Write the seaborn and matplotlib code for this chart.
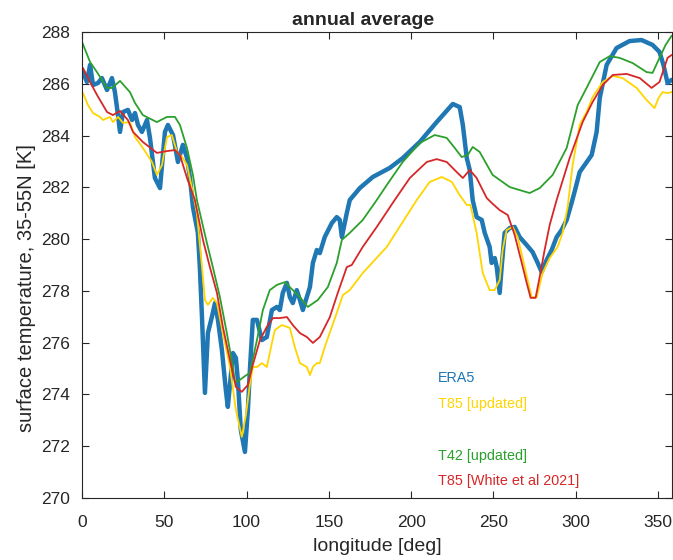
import numpy as np
import pandas as pd
import matplotlib
matplotlib.use("Agg")
import matplotlib.pyplot as plt
import seaborn as sns
from matplotlib.lines import Line2D

# ---------------- data ----------------
era5_lon = [0.6, 3.0, 4.9, 6.7, 9.7, 12.1, 15.2, 18.2, 20.0, 21.3, 23.1, 24.9, 27.9, 30.4, 32.2, 34.0,
            36.4, 39.5, 41.3, 44.3, 47.4, 50.4, 52.2, 55.3, 58.3, 61.3, 63.8, 65.6, 67.4, 70.4, 71.6,
            72.9, 74.7, 76.5, 78.9, 80.8, 82.6, 85.0, 87.4, 88.6, 89.9, 91.7, 93.5, 94.7, 96.5, 99.0,
            100.8, 102.0, 103.8, 106.3, 109.3, 112.3, 115.4, 118.4, 120.2, 122.0, 124.5, 126.3, 128.1,
            130.5, 132.4, 134.2, 136.6, 138.5, 140.3, 142.7, 144.5, 147.5, 151.8, 154.8, 156.6, 157.9,
            160.9, 162.7, 168.8, 176.7, 187.0, 194.9, 205.2, 215.5, 225.3, 229.5, 231.4, 233.8, 235.6,
            237.4, 239.8, 242.9, 244.7, 247.7, 248.9, 250.8, 252.0, 253.8, 255.0, 256.8, 259.9, 262.9,
            265.9, 270.2, 273.8, 276.9, 279.3, 282.3, 285.4, 288.4, 291.4, 294.5, 297.5, 299.9, 302.4,
            305.4, 309.7, 312.7, 314.6, 318.8, 324.8, 332.7, 340.0, 346.7, 350.9, 353.3, 355.8, 358.2]
era5_t = [286.45, 286.07, 286.73, 285.95, 286.03, 286.22, 285.76, 286.22, 285.68, 285.06, 284.14, 284.91,
          284.99, 284.60, 284.87, 284.41, 284.14, 284.60, 283.91, 282.36, 281.97, 284.14, 284.41, 284.02,
          282.98, 283.64, 283.13, 282.36, 281.24, 280.24, 278.92, 276.99, 274.06, 276.37, 276.99, 277.53,
          276.88, 275.72, 274.17, 273.52, 274.37, 275.60, 275.41, 274.56, 272.63, 271.78, 273.40, 274.94,
          276.88, 276.88, 276.10, 276.22, 277.26, 277.38, 277.26, 277.92, 278.31, 277.76, 277.53, 278.03,
          277.65, 277.26, 277.76, 278.15, 279.08, 279.58, 279.46, 280.08, 280.62, 280.85, 280.74, 280.08,
          281.01, 281.51, 281.97, 282.40, 282.75, 283.13, 283.75, 284.52, 285.22, 285.10, 284.41, 283.13,
          282.67, 281.51, 280.85, 280.74, 280.24, 279.70, 279.08, 279.27, 278.92, 277.92, 278.92, 280.24,
          280.43, 280.47, 280.08, 279.77, 279.50, 279.08, 278.73, 279.19, 279.58, 280.08, 280.35, 280.74,
          281.40, 281.97, 282.59, 282.86, 283.25, 284.14, 285.45, 286.73, 287.38, 287.65, 287.69, 287.50,
          287.23, 286.73, 286.03, 286.15]

t85u_lon = [0.6, 3.6, 6.7, 10.9, 12.8, 17.0, 18.8, 21.9, 24.9, 29.1, 32.2, 37.0, 42.5, 45.5, 48.6, 51.6,
            54.6, 57.7, 61.3, 63.8, 66.8, 69.8, 72.9, 74.7, 76.5, 79.5, 82.0, 85.6, 89.9, 93.5, 97.1, 99.6,
            102.0, 103.8, 106.3, 109.3, 112.3, 114.1, 115.4, 117.2, 121.4, 126.3, 129.3, 132.4, 136.6,
            138.5, 140.3, 142.7, 144.5, 147.5, 151.8, 155.4, 158.5, 162.7, 170.6, 185.2, 203.4, 211.3,
            218.6, 224.7, 229.5, 233.8, 236.0, 239.8, 243.5, 247.7, 250.8, 253.8, 255.6, 258.0, 261.7,
            264.7, 269.0, 273.2, 276.3, 279.9, 284.2, 289.0, 292.0, 295.1, 298.1, 302.4, 306.6, 310.3,
            316.4, 322.5, 328.5, 337.0, 343.1, 347.9, 350.3, 352.8, 355.8, 358.2]
t85u_t = [285.64, 285.18, 284.87, 284.72, 284.60, 284.72, 284.52, 284.72, 284.49, 284.52, 283.94, 283.52,
          282.98, 282.48, 282.86, 283.94, 284.02, 283.37, 283.13, 282.86, 281.97, 281.01, 278.92, 277.65,
          277.46, 277.73, 277.53, 276.37, 275.06, 273.40, 272.36, 273.21, 274.37, 275.06, 275.06, 275.21,
          275.06, 275.60, 275.99, 276.49, 276.68, 276.57, 275.83, 275.21, 275.06, 274.75, 275.06, 275.21,
          275.21, 275.83, 276.61, 277.26, 277.84, 278.03, 278.69, 279.70, 281.51, 282.21, 282.40, 282.21,
          281.70, 281.32, 281.32, 280.24, 278.69, 278.03, 278.03, 278.42, 279.58, 280.35, 280.47, 280.08,
          278.92, 277.76, 277.76, 278.69, 279.27, 279.70, 280.24, 281.24, 282.86, 284.41, 284.91, 285.49,
          286.07, 286.30, 286.22, 285.84, 285.37, 285.06, 285.45, 285.68, 285.64, 285.68]

t42u_lon = [0.0, 4.9, 9.1, 15.2, 18.2, 23.1, 29.1, 32.2, 37.0, 45.5, 51.6, 56.5, 59.5, 63.8, 67.4, 69.8,
            75.9, 79.5, 83.8, 88.0, 91.7, 92.9, 95.9, 99.0, 102.0, 106.3, 109.9, 114.1, 118.4, 123.3,
            128.1, 132.4, 137.2, 143.3, 149.4, 154.8, 157.9, 162.7, 170.6, 179.1, 185.2, 194.9, 205.2,
            214.3, 221.6, 226.5, 230.7, 234.4, 237.4, 241.6, 249.5, 259.9, 272.0, 278.1, 286.0, 294.5,
            301.2, 306.6, 314.6, 320.7, 326.7, 334.6, 343.1, 346.7, 350.9, 354.6, 358.2]
t42u_t = [287.62, 286.84, 286.45, 285.84, 285.84, 286.11, 285.68, 285.26, 284.79, 284.52, 284.72, 284.72,
          284.41, 283.52, 282.48, 281.51, 279.85, 278.92, 277.76, 276.37, 275.06, 274.48, 274.56, 274.71,
          274.83, 276.10, 277.26, 278.03, 278.23, 278.34, 278.03, 277.76, 277.38, 277.65, 278.15, 279.08,
          279.97, 280.24, 280.74, 281.51, 282.09, 282.98, 283.71, 284.02, 283.91, 283.52, 283.17, 283.25,
          283.56, 283.37, 282.48, 282.01, 281.78, 281.97, 282.48, 283.52, 285.18, 285.84, 286.84, 287.07,
          287.00, 286.80, 286.45, 286.42, 287.00, 287.50, 287.85]

t85w_lon = [0.6, 4.9, 9.1, 15.2, 18.8, 23.1, 27.9, 31.0, 37.0, 45.5, 51.6, 56.5, 59.5, 63.8, 68.6, 73.5,
            77.7, 82.0, 85.6, 89.9, 93.5, 97.1, 100.8, 103.8, 108.1, 112.3, 116.0, 120.2, 124.5, 128.1,
            132.4, 136.6, 140.3, 144.5, 150.6, 155.4, 160.9, 163.9, 170.6, 179.1, 190.0, 199.2, 209.5,
            215.5, 221.6, 227.7, 231.4, 235.6, 239.8, 245.9, 248.9, 253.8, 258.7, 262.9, 267.2, 270.2,
            272.6, 275.6, 278.1, 281.1, 284.2, 288.4, 296.3, 304.2, 310.3, 316.4, 322.5, 331.0, 338.9,
            346.1, 350.9, 355.8, 358.2]
t85w_t = [286.61, 286.07, 285.57, 284.91, 284.79, 284.95, 284.60, 284.14, 283.75, 283.33, 283.40, 283.44,
          283.25, 282.36, 281.51, 279.97, 278.92, 277.92, 276.61, 275.33, 274.29, 274.10, 274.37, 275.14,
          276.10, 276.61, 276.95, 276.95, 276.99, 276.68, 276.37, 276.22, 275.99, 276.22, 276.99, 277.92,
          278.92, 279.00, 279.70, 280.47, 281.51, 282.36, 282.98, 283.09, 282.98, 282.59, 282.36, 282.67,
          282.36, 281.59, 281.40, 281.12, 280.93, 280.16, 279.08, 278.31, 277.73, 277.73, 278.54, 279.58,
          280.55, 281.51, 283.13, 284.52, 285.30, 285.95, 286.34, 286.38, 286.22, 285.84, 286.07, 287.00,
          287.11]

labels = ["ERA5", "T85 [updated]", "T42 [updated]", "T85 [White et al 2021]"]
colors = ["#1f77b4", "#ffd500", "#2ca02c", "#d62728"]
widths = [3.2, 1.3, 1.3, 1.3]
x_ticks = [0, 50, 100, 150, 200, 250, 300, 350]
y_ticks = [270, 272, 274, 276, 278, 280, 282, 284, 286, 288]

# ---------------- plot ----------------
sns.set_style("ticks")
plt.rcParams["font.family"] = ["Liberation Sans", "DejaVu Sans"]

fig = plt.figure(figsize=(6.73, 5.60), dpi=100)
ax = fig.add_axes([82 / 673, 1 - 498 / 560, 590 / 673, 466 / 560])

series = [(era5_lon, era5_t), (t85u_lon, t85u_t), (t42u_lon, t42u_t), (t85w_lon, t85w_t)]
handles = []
for (lon, t), lab, c, w in zip(series, labels, colors, widths):
    df = pd.DataFrame({"lon": lon, "T": t})
    sns.lineplot(data=df, x="lon", y="T", ax=ax, color=c, linewidth=w,
                 estimator=None, sort=False)
    handles.append(Line2D([], [], color=c, label=lab))

blank = Line2D([], [], color="white", label=" ")
leg_handles = [handles[0], handles[1], blank, handles[2], handles[3]]
leg = ax.legend(handles=leg_handles, loc="upper left", bbox_to_anchor=(0.591, 0.287),
                frameon=False, handlelength=0, handletextpad=0, borderpad=0,
                labelspacing=0.81, fontsize=10.4)
for txt, h in zip(leg.get_texts(), leg_handles):
    txt.set_color(h.get_color())

ax.set_xlim(0, 358.5)
ax.set_ylim(270, 288)
ax.set_xticks(x_ticks)
ax.set_yticks(y_ticks)
ax.tick_params(direction="in", top=True, right=True, length=5, width=0.8,
               labelsize=12.5, colors="#262626")
ax.tick_params(axis="x", pad=12)
ax.tick_params(axis="y", pad=8.5)
for s in ax.spines.values():
    s.set_visible(True)
    s.set_color("#262626")
    s.set_linewidth(0.8)

ax.set_xlabel("longitude [deg]", fontsize=14, color="#262626", labelpad=6)
ax.set_ylabel("surface temperature, 35-55N [K]", fontsize=14.5, color="#262626")
ax.yaxis.set_label_coords(-0.078, 0.45)
ax.set_title("annual average", fontsize=14, fontweight="bold", x=0.476, pad=5)

fig.savefig("out.png", dpi=100)
